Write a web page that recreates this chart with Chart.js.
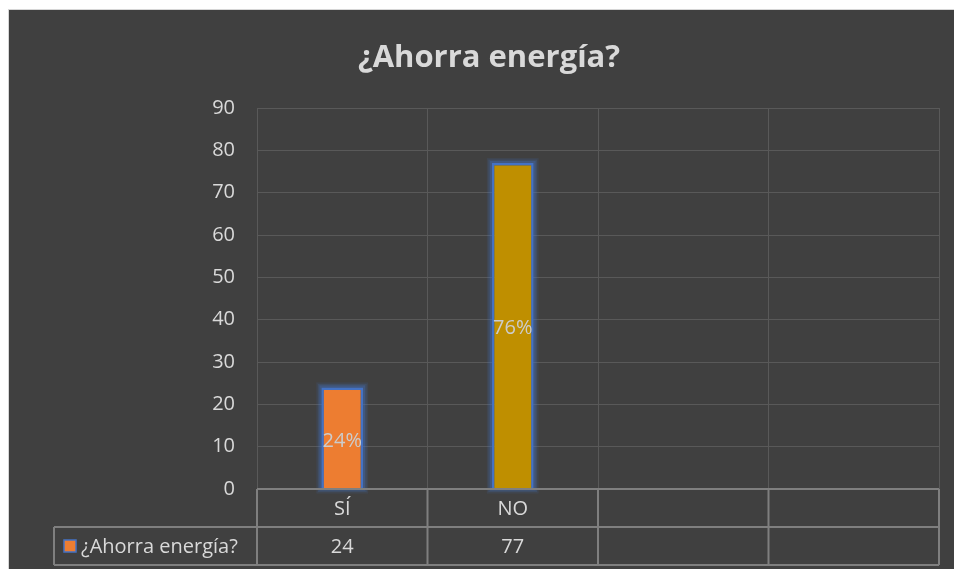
<!DOCTYPE html>
<html>
<head>
<meta charset="utf-8">
<script src="https://cdn.jsdelivr.net/npm/chart.js@4/dist/chart.umd.min.js"></script>
<style>
    html, body { margin: 0; padding: 0; background: #ffffff; }
    #wrap {
        position: absolute; left: 8px; top: 9px;
        width: 945px; height: 559px;
        background: #404040;
        border-left: 1px solid #d6d6d6;
        border-top: 1px solid #d6d6d6;
    }
</style>
</head>
<body>
<div id="wrap"><canvas id="chart" width="945" height="559"></canvas></div>
<script>
const chartTitle = '¿Ahorra energía?';
const seriesName = '¿Ahorra energía?';
const categories = ['SÍ', 'NO', '', ''];
const values = [24, 77, null, null];
const barColors = ['#ED7D31', '#BF8F00', '#ED7D31', '#BF8F00'];
const yTicks = [0, 10, 20, 30, 40, 50, 60, 70, 80, 90];

const textColor = '#d9d9d9';
const font = '"Open Sans", "Noto Sans", sans-serif';
const total = values.reduce((a, b) => a + (b || 0), 0);

/**
 * title, glow, data labels and the data table under the plot
 */
const excelLook = {
    id: 'excelLook',
    beforeDatasetsDraw(chart) {
        // soft blue glow round each bar
        const ctx = chart.ctx;
        const meta = chart.getDatasetMeta(0);
        ctx.save();
        ctx.strokeStyle = '#4472C4';
        meta.data.forEach((bar, i) => {
            if (values[i] == null) return;
            const left = bar.x - bar.width / 2;
            const top = Math.min(bar.y, bar.base);
            const h = Math.abs(bar.base - bar.y);
            [[10, 0.12], [7, 0.18], [4, 0.3]].forEach(([w, a]) => {
                ctx.globalAlpha = a;
                ctx.lineWidth = w;
                ctx.strokeRect(left, top, bar.width, h);
            });
        });
        ctx.restore();
    },
    afterDatasetsDraw(chart) {
        const ctx = chart.ctx;
        const meta = chart.getDatasetMeta(0);
        ctx.save();
        ctx.font = '20px ' + font;
        ctx.fillStyle = '#cccccc';
        ctx.textAlign = 'center';
        ctx.textBaseline = 'middle';
        meta.data.forEach((bar, i) => {
            if (values[i] == null) return;
            const pct = Math.round(values[i] / total * 100) + '%';
            ctx.fillText(pct, bar.x, (bar.y + bar.base) / 2 + 3);
        });
        ctx.restore();
    },
    afterDraw(chart) {
        const ctx = chart.ctx;
        const area = chart.chartArea;
        const x = chart.scales.x;
        const rowH = 38;
        const legendLeft = 45;
        const row1 = area.bottom + rowH;
        const row2 = row1 + rowH;
        const half = (x.getPixelForValue(1) - x.getPixelForValue(0)) / 2;

        ctx.save();

        // title
        ctx.font = 'bold 31px ' + font;
        ctx.fillStyle = textColor;
        ctx.textAlign = 'center';
        ctx.textBaseline = 'middle';
        ctx.fillText(chartTitle, 480, 48);

        // table lines
        ctx.strokeStyle = '#7f7f7f';
        ctx.lineWidth = 2;
        ctx.beginPath();
        ctx.moveTo(area.left, area.bottom);
        ctx.lineTo(area.right, area.bottom);
        ctx.moveTo(legendLeft, row1);
        ctx.lineTo(area.right, row1);
        ctx.moveTo(legendLeft, row2);
        ctx.lineTo(area.right, row2);
        ctx.moveTo(legendLeft, row1);
        ctx.lineTo(legendLeft, row2);
        categories.forEach((c, i) => {
            const px = x.getPixelForValue(i) - half;
            ctx.moveTo(px, area.bottom);
            ctx.lineTo(px, row2);
        });
        ctx.moveTo(area.right, area.bottom);
        ctx.lineTo(area.right, row2);
        ctx.stroke();

        // categories and values
        ctx.font = '20px ' + font;
        ctx.fillStyle = textColor;
        categories.forEach((c, i) => {
            const px = x.getPixelForValue(i);
            ctx.fillText(c, px, area.bottom + rowH / 2 + 1);
            if (values[i] != null) ctx.fillText(String(values[i]), px, row1 + rowH / 2 + 1);
        });

        // legend key
        ctx.fillStyle = barColors[0];
        ctx.fillRect(55, row1 + 13, 12, 12);
        ctx.strokeStyle = '#4472C4';
        ctx.lineWidth = 1.5;
        ctx.strokeRect(55, row1 + 13, 12, 12);
        ctx.fillStyle = textColor;
        ctx.textAlign = 'left';
        ctx.fillText(seriesName, 72, row1 + rowH / 2 + 1);

        ctx.restore();
    }
};

new Chart(document.getElementById('chart'), {
    type: 'bar',
    data: {
        labels: categories,
        datasets: [{
            label: seriesName,
            data: values,
            backgroundColor: barColors,
            borderColor: '#4472C4',
            borderWidth: 2.5,
            barPercentage: 0.245,
            categoryPercentage: 1,
        }],
    },
    options: {
        responsive: false,
        animation: false,
        layout: {
            padding: {left: 0, right: 15, top: 98, bottom: 80},
        },
        plugins: {
            legend: {display: false},
            title: {display: false},
            tooltip: {enabled: false},
        },
        scales: {
            x: {
                grid: {color: '#595959', lineWidth: 1, drawTicks: false, offset: true},
                border: {display: false},
                ticks: {display: false},
                afterFit(scale) { scale.height = 0; },
            },
            y: {
                min: 0,
                max: 90,
                afterBuildTicks(scale) { scale.ticks = yTicks.map(v => ({value: v})); },
                afterFit(scale) { scale.width = 248; },
                grid: {color: '#595959', lineWidth: 1, drawTicks: false},
                border: {display: false},
                ticks: {
                    color: textColor,
                    padding: 22,
                    font: {family: font, size: 20},
                },
            },
        },
    },
    plugins: [excelLook],
});
</script>
</body>
</html>
